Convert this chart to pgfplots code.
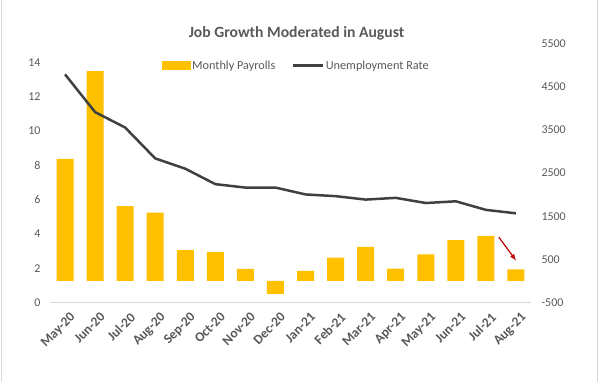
\documentclass[border=0pt]{standalone}
\usepackage{pgfplots}
\pgfplotsset{compat=1.18}
\usepackage{fontspec}
\setmainfont{Carlito}
\definecolor{barc}{HTML}{FFC000}
\definecolor{linec}{HTML}{404040}
\definecolor{txt}{HTML}{595959}
\definecolor{grid}{HTML}{D9D9D9}
\definecolor{arr}{HTML}{C00000}
\begin{document}
\begin{tikzpicture}[x=1bp,y=1bp]
\path (0,0) rectangle (598,381);
\draw[grid, line width=1bp] (1,0) -- (1,381);
\draw[grid, line width=1bp] (597,0) -- (597,381);
\node[font=\fontsize{15.7}{16}\selectfont\bfseries, text=txt] at (296.5,348) {Job Growth Moderated in August};
% bars, right axis
\begin{axis}[
  at={(50bp,79bp)}, anchor=south west,
  scale only axis, width=481bp, height=259bp,
  xmin=-0.5, xmax=15.5, ymin=-500, ymax=5500,
  ytick={-500,500,1500,2500,3500,4500,5500},
  separate axis lines,
  axis x line*=bottom, axis y line*=right,
  x axis line style={draw=grid, line width=0.8bp, -},
  y axis line style={draw=none},
  major tick length=0pt,
  xtick={0,...,15},
  xticklabels={May-20,Jun-20,Jul-20,Aug-20,Sep-20,Oct-20,Nov-20,Dec-20,Jan-21,Feb-21,Mar-21,Apr-21,May-21,Jun-21,Jul-21,Aug-21},
  x tick label style={rotate=45, anchor=north east, font=\fontsize{13.5}{13.5}\selectfont\bfseries, text=txt, xshift=0bp, yshift=-6bp},
  y tick label style={font=\fontsize{12}{12}\selectfont, text=txt, xshift=7bp},
  /pgf/number format/assume math mode=true,
  /pgf/number format/1000 sep={},
  ybar, bar width=17bp,
]
\addplot[fill=barc, draw=none] coordinates {
(0,2830) (1,4860) (2,1735) (3,1585) (4,715) (5,670) (6,280) (7,-300)
(8,235) (9,540) (10,790) (11,285) (12,615) (13,945) (14,1045) (15,265)};
\draw[arr, line width=1.2bp, -latex] (axis cs:14.43,1014) -- (axis cs:15.0,473);
\end{axis}
% line, left axis
\begin{axis}[
  at={(50bp,79bp)}, anchor=south west,
  scale only axis, width=481bp, height=259bp,
  xmin=-0.5, xmax=15.5, ymin=0, ymax=15.1,
  ytick={0,2,...,14},
  axis x line=none, axis y line*=left,
  y axis line style={draw=none},
  major tick length=0pt,
  y tick label style={font=\fontsize{12}{12}\selectfont, text=txt, xshift=-6bp},
  /pgf/number format/assume math mode=true,
  legend columns=2,
  legend style={draw=none, fill=none, at={(0.512,0.915)}, anchor=center,
    font=\fontsize{12.3}{12}\selectfont, text=txt,
    /tikz/every even column/.append style={column sep=14bp}},
]
\addlegendimage{legend image code/.code={\fill[barc] (0bp,-4bp) rectangle (28bp,4bp);}}
\addlegendentry{Monthly Payrolls}
\addplot[linec, line width=2.5bp, mark=none, legend image code/.code={\draw[linec, line width=2.5bp] (0bp,0bp) -- (30bp,0bp);}] coordinates {
(0,13.3) (1,11.1) (2,10.2) (3,8.4) (4,7.8) (5,6.9) (6,6.7) (7,6.7)
(8,6.3) (9,6.2) (10,6.0) (11,6.1) (12,5.8) (13,5.9) (14,5.4) (15,5.2)};
\addlegendentry{Unemployment Rate}
\end{axis}
\end{tikzpicture}
\end{document}
